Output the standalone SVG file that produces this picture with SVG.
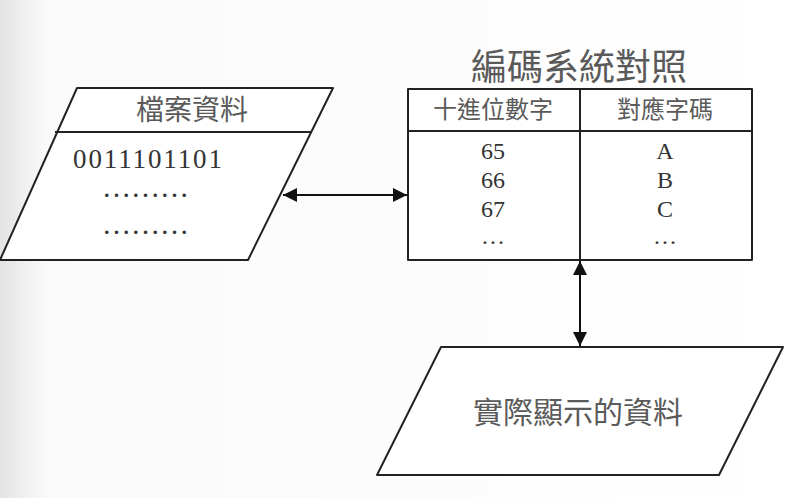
<svg xmlns="http://www.w3.org/2000/svg" width="790" height="498" viewBox="0 0 790 498">
<defs>
<linearGradient id="bg" x1="0" y1="0" x2="1" y2="0">
<stop offset="0" stop-color="#e4e4e4"/>
<stop offset="0.06" stop-color="#fafafa"/>
<stop offset="1" stop-color="#ffffff"/>
</linearGradient>
<marker id="ah" viewBox="0 0 10 10" refX="10" refY="5" markerWidth="14" markerHeight="14" markerUnits="userSpaceOnUse" orient="auto-start-reverse">
<path d="M0,0 L10,5 L0,10 z" fill="#111"/>
</marker>
<style>
.shape{fill:#fff;stroke:#222;stroke-width:2;stroke-linejoin:round}
.ln{stroke:#222;stroke-width:2;fill:none}
.cjk{font-family:"Noto Sans CJK TC","Noto Sans CJK SC",sans-serif;fill:#5a5a5a;text-anchor:middle}
.num{font-family:"Liberation Serif",serif;fill:#333;text-anchor:middle;font-size:24px}
.dots{font-family:"Liberation Serif",serif;fill:#333;font-size:29px}
.conn{stroke:#111;stroke-width:2;fill:none}
</style>
</defs>
<rect width="790" height="498" fill="url(#bg)"/>
<g id="file-data">
<polygon class="shape" points="77,88 333,88 248,260 0,260"/>
<line class="ln" x1="55" y1="132" x2="311" y2="132"/>
<text class="cjk" x="192" y="120" font-size="28">檔案資料</text>
<text x="73" y="168" font-family="Liberation Serif,serif" font-size="27" fill="#333" textLength="149" lengthAdjust="spacing">0011101101</text>
<text class="dots" x="102" y="197">………</text>
<text class="dots" x="102" y="234">………</text>
</g>
<g id="code-table">
<text class="cjk" x="579" y="80" font-size="36" fill="#3a3a3a">編碼系統對照</text>
<rect class="shape" x="408" y="89" width="344" height="171"/>
<line class="ln" x1="408" y1="131" x2="752" y2="131"/>
<line class="ln" x1="580" y1="89" x2="580" y2="260"/>
<text class="cjk" x="493" y="118" font-size="24">十進位數字</text>
<text class="cjk" x="665" y="118" font-size="24">對應字碼</text>
<text class="num" x="493" y="159">65</text>
<text class="num" x="493" y="188">66</text>
<text class="num" x="493" y="217">67</text>
<text class="num" x="493" y="244">…</text>
<text class="num" x="665" y="159">A</text>
<text class="num" x="665" y="188">B</text>
<text class="num" x="665" y="217">C</text>
<text class="num" x="665" y="244">…</text>
</g>
<g id="display-data">
<polygon class="shape" points="441,347 783,347 719,475 377,475"/>
<text class="cjk" x="578" y="423" font-size="30">實際顯示的資料</text>
</g>
<g id="connectors">
<line class="conn" x1="283" y1="195" x2="407" y2="195" marker-start="url(#ah)" marker-end="url(#ah)"/>
<line class="conn" x1="580" y1="261" x2="580" y2="346" marker-start="url(#ah)" marker-end="url(#ah)"/>
</g>
</svg>
